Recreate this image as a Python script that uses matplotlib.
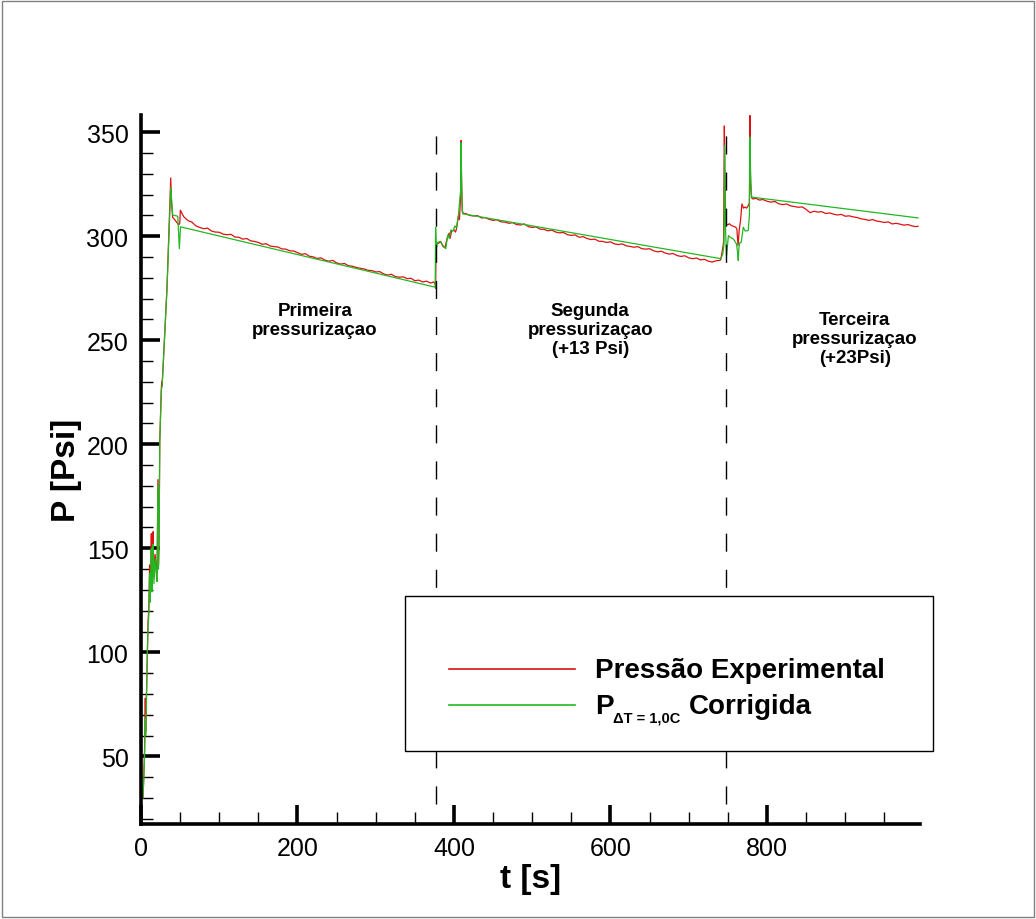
import matplotlib
matplotlib.use('Agg')
import matplotlib.pyplot as plt
from matplotlib.patches import Rectangle
from matplotlib.lines import Line2D
from matplotlib.ticker import MultipleLocator

plt.rcParams['font.family'] = ['Liberation Sans', 'DejaVu Sans']

# Pressao experimental (red)
t_exp = [2.5, 3.5, 4.5, 5.5, 6.0, 7.0, 8.0, 9.0, 10.0, 11.0, 11.5, 12.5, 13.2, 14.0, 15.0,
         15.5, 16.5, 18.0, 19.6, 20.5, 21.6, 22.3, 23.0, 24.0, 26.0, 26.5, 27.0, 33.2, 38.0,
         39.0, 40.5, 43.0, 46.0, 48.0, 49.5, 50.3, 53.0,
         55, 60, 65, 70, 75, 80, 85, 90, 95, 100, 105, 110, 115, 120, 125, 130, 135, 140,
         145, 150, 155, 160, 165, 170, 175, 180, 185, 190, 195, 200, 205, 210, 215, 220,
         225, 230, 235, 240, 245, 250, 255, 260, 265, 270, 275, 280, 285, 290, 295, 300,
         305, 310, 315, 320, 325, 330, 335, 340, 345, 350, 355, 360, 365, 370, 374, 376,
         376.5, 377, 377.5, 380, 383, 386, 388.5, 390, 392, 394, 395, 397, 400, 402, 403.5,
         405.5, 407, 408.5, 409, 409.5, 410.5, 412,
         415, 420, 425, 430, 435, 440, 445, 450, 455, 460, 465, 470, 475, 480, 485, 490,
         495, 500, 505, 510, 515, 520, 525, 530, 535, 540, 545, 550, 555, 560, 565, 570,
         575, 580, 585, 590, 595, 600, 605, 610, 615, 620, 625, 630, 635, 640, 645, 650,
         655, 660, 665, 670, 675, 680, 685, 690, 695, 700, 705, 710, 715, 720, 725, 730,
         735, 740,
         741, 743, 744.5, 745.5, 746.5, 747.5, 750, 752, 754.6, 757, 760, 761.5, 763, 764.5,
         766, 768, 770, 772, 774, 776, 777.5, 778.2, 779, 780.3,
         782, 786, 790, 795, 800, 805, 810, 815, 820, 825, 830, 835, 840, 845, 850, 855,
         860, 865, 870, 875, 880, 885, 890, 895, 900, 905, 910, 915, 920, 925, 930, 935,
         940, 945, 950, 955, 960, 965, 970, 975, 980, 985, 990, 993]
p_exp = [30, 40, 52, 78, 62, 80, 100, 115, 121, 142, 126, 139, 157, 132, 146,
         158, 136, 147, 140, 136, 183, 142, 152, 202, 227, 230, 228, 275, 328,
         316, 309, 308, 306.5, 305.5, 306, 312.5, 310.5,
         309.2, 307.5, 306.8, 305.0, 304.2, 303.6, 303.9, 302.5, 302.0, 301.9, 301.0, 300.7,
         300.9, 299.6, 299.5, 298.6, 298.9, 297.8, 297.5, 297.0, 296.1, 296.4, 295.3, 295.0,
         294.8, 293.9, 293.8, 293.0, 292.9, 292.1, 291.3, 291.6, 290.4, 290.1, 289.3, 289.6,
         288.5, 288.0, 288.4, 287.2, 286.6, 286.9, 285.8, 285.6, 285.0, 284.6, 284.3, 283.6,
         283.5, 282.8, 283.0, 281.9, 281.3, 281.7, 280.6, 280.3, 280.5, 279.6, 279.8, 278.6,
         278.9, 278.0, 278.4, 277.5, 278.0, 277.0,
         275, 290, 297, 296.5, 297.5, 295, 294.5, 297, 300, 301.5, 299, 302.5, 303, 302, 304,
         309.5, 308, 320, 346, 330, 312, 311,
         310.9, 310.0, 309.7, 309.9, 308.8, 308.9, 308.1, 307.6, 307.9, 306.9, 306.8, 306.2,
         306.5, 305.6, 305.4, 305.9, 304.6, 304.2, 304.5, 303.4, 303.3, 302.6, 302.9, 302.0,
         301.6, 301.8, 300.7, 300.4, 300.6, 299.5, 299.8, 298.9, 298.4, 298.6, 297.6, 297.5,
         297.0, 297.3, 296.3, 296.0, 296.3, 295.4, 295.1, 294.7, 295.0, 294.0, 293.8, 294.0,
         293.0, 292.5, 292.8, 291.9, 291.4, 291.7, 290.7, 290.3, 290.6, 289.6, 289.2, 289.5,
         288.6, 288.9, 288.0, 287.6, 288.2, 288.4,
         289, 293.3, 297, 353, 320, 306, 305.5, 306, 305.1, 304.8, 304.3, 303.5, 295.5, 303,
         307, 315.5, 313.5, 314, 313.5, 314.7, 316, 358, 325, 318.5,
         317.9, 318.2, 317.4, 317.6, 316.8, 316.4, 316.7, 315.6, 315.2, 315.5, 314.6, 314.3,
         313.9, 314.1, 312.9, 311.3, 312.0, 311.6, 311.8, 310.9, 311.2, 310.6, 310.2, 310.5,
         309.6, 309.8, 309.3, 309.0, 308.4, 308.1, 307.6, 308.0, 307.3, 307.0, 306.6, 306.9,
         305.9, 306.2, 305.8, 305.3, 305.6, 305.0, 304.6, 304.8]

# P corrigida, dT = 1,0C (green)
t_cor = [2.5, 3.5, 4.5, 5.5, 6.0, 7.0, 8.0, 9.0, 10.0, 11.0, 11.5, 12.5, 13.2, 14.0, 15.0,
         15.5, 16.5, 18.0, 19.6, 20.5, 21.6, 22.3, 23.0, 24.0, 26.0, 27.0, 33.2, 38.0, 40.5,
         47.0, 49.0, 50.5, 376,
         376.2, 376.5, 377.5, 379, 382, 385, 389.5, 392, 394, 396, 399, 401, 403, 405.5,
         408.5, 409, 410, 411, 741,
         743.5, 745, 745.8, 746.8, 748.3, 750.7, 753, 757, 761, 762.5, 763.3, 764, 765, 767,
         769.7, 772, 776, 777.5, 778.2, 779, 780.3, 993]
p_cor = [30, 38, 50, 68, 60, 78, 98, 112, 118, 138, 124, 136, 150, 129, 143,
         152, 133, 145, 137, 134, 180, 140, 150, 201, 226, 228, 274.7, 323.6, 310.2,
         309.6, 294, 304.5, 275.5,
         288, 304.3, 294, 297, 297.5, 296, 294, 300.5, 299, 303, 302.5, 305, 304, 309.5,
         322, 345, 320, 310.8, 289.2,
         291.5, 296, 343.6, 305, 290.7, 300.3, 299.5, 298.7, 296.3, 292, 288.3, 294, 296.8, 297,
         304.3, 302.5, 302.7, 310, 347.6, 330, 318.8, 308.8]

# inicio de cada nova pressurizacao
event_t = [377, 748]
event_p = [27, 354]

notes = ['Primeira\npressurizaçao', 'Segunda\npressurizaçao\n(+13 Psi)',
         'Terceira\npressurizaçao\n(+23Psi)']
note_t = [222, 574, 912]
note_p = [268.5, 268.5, 264]

red = '#dd1111'
green = '#22b822'

fig = plt.figure(figsize=(10.36, 9.2), dpi=100)
ax = fig.add_axes([0.1361, 0.1033, 0.7519, 0.7707])

ax.plot(t_exp, p_exp, color=red, lw=0.9)
ax.plot(t_cor, p_cor, color=green, lw=0.9)
for t in event_t:
    ax.plot([t, t], event_p, color='black', lw=1.0, linestyle=(0, (13, 13)))

for s, t, p in zip(notes, note_t, note_p):
    ax.text(t, p, s, ha='center', va='top', fontsize=13.5, fontweight='bold',
            linespacing=1.15)

ax.set_xlim(0, 995.5)
ax.set_ylim(17.5, 358.3)
ax.xaxis.set_major_locator(MultipleLocator(200))
ax.xaxis.set_minor_locator(MultipleLocator(50))
ax.yaxis.set_major_locator(MultipleLocator(50))
ax.yaxis.set_minor_locator(MultipleLocator(10))
ax.set_xticks([0, 200, 400, 600, 800])
ax.set_yticks([50, 100, 150, 200, 250, 300, 350])

for side in ['top', 'right']:
    ax.spines[side].set_visible(False)
for side in ['left', 'bottom']:
    ax.spines[side].set_linewidth(2.6)

ax.tick_params(which='major', direction='in', length=13.5, width=2.6, labelsize=18, pad=9)
ax.tick_params(which='minor', direction='in', length=8.5, width=1.0)

ax.set_xlabel('t [s]', fontsize=24, fontweight='bold', labelpad=2)
ax.set_ylabel('P [Psi]', fontsize=24, fontweight='bold', labelpad=3)

# caixa da legenda
fig.add_artist(Rectangle((405 / 1036, 1 - 752 / 920), 528 / 1036, 155 / 920,
                         transform=fig.transFigure, facecolor='white',
                         edgecolor='black', lw=1.0, zorder=5))
fig.add_artist(Line2D([449 / 1036, 575 / 1036], [1 - 670 / 920] * 2,
                      transform=fig.transFigure, color=red, lw=1.2, zorder=6))
fig.add_artist(Line2D([449 / 1036, 575 / 1036], [1 - 706 / 920] * 2,
                      transform=fig.transFigure, color=green, lw=1.2, zorder=6))
fig.text(595 / 1036, 1 - 671 / 920, 'Pressão Experimental', fontsize=20,
         fontweight='bold', va='center', zorder=7)
fig.text(595 / 1036, 1 - 707 / 920, 'P', fontsize=20, fontweight='bold',
         va='center', zorder=7)
fig.text(613 / 1036, 1 - 719 / 920, 'ΔT = 1,0C', fontsize=10.5, fontweight='bold',
         va='center', zorder=7)
fig.text(689 / 1036, 1 - 707 / 920, 'Corrigida', fontsize=20, fontweight='bold',
         va='center', zorder=7)

# moldura da figura
fig.add_artist(Rectangle((0.002, 0.002), 0.996, 0.996, transform=fig.transFigure,
                         facecolor='none', edgecolor='#808080', lw=1.0))

fig.savefig('out.png', dpi=100)
